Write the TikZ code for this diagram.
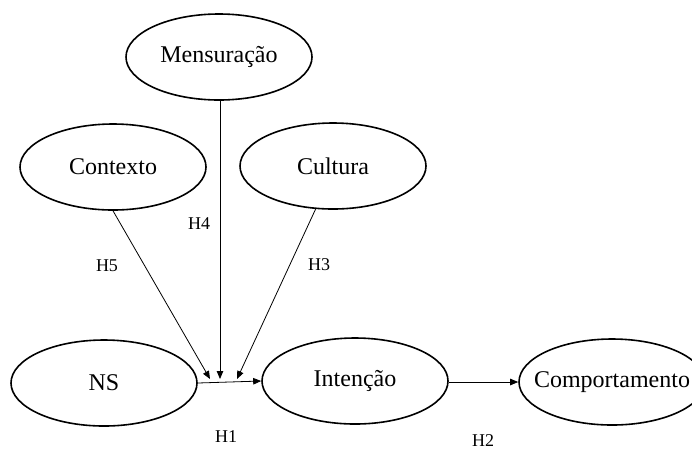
\documentclass[tikz,border=0pt]{standalone}
\usepackage{fontspec}
\setmainfont{Liberation Serif}
\usetikzlibrary{shapes.geometric,arrows.meta}
\begin{document}
\begin{tikzpicture}[x=1pt,y=-1pt,
  var/.style={draw,ellipse,line width=1.6pt,minimum width=186pt,minimum height=86pt,inner sep=0pt,font=\fontsize{24}{28}\selectfont},
  conn/.style={line width=0.8pt,-{Triangle[length=8pt,width=6.5pt]}},
  hlab/.style={font=\fontsize{18}{21}\selectfont,inner sep=0pt}]
\fill[white] (0,0) rectangle (692,451);
\clip (0,0) rectangle (692,451);
\node[var] (mens) at (219,57) {Mensuração};
\node[var] (ctx) at (113,167) {Contexto};
\node[var] (cult) at (333,166) {Cultura};
\node[var] (ns) at (104,383) {NS};
\node[var] (int) at (355,381) {Intenção};
\node[var] (comp) at (612,382) {\makebox[0pt]{Comportamento}};
\coordinate (t5) at (210,379);
\coordinate (t4) at (220,379);
\coordinate (t3) at (237,379);
\draw[conn] (ctx.south) -- (t5);
\draw[conn] (mens.south -| t4) -- (t4);
\draw[conn] (cult.248) -- (t3);
\draw[conn] (ns.east) -- (int.west);
\draw[conn] (int.east |- comp.west) -- (comp.west);
\node[hlab] (h4) at (199,224) {H4};
\node[hlab] (h5) at (107,266) {H5};
\node[hlab] (h3) at (319,265) {H3};
\node[hlab] (h1) at (226,437) {H1};
\node[hlab] (h2) at (483,441) {H2};
\end{tikzpicture}
\end{document}
